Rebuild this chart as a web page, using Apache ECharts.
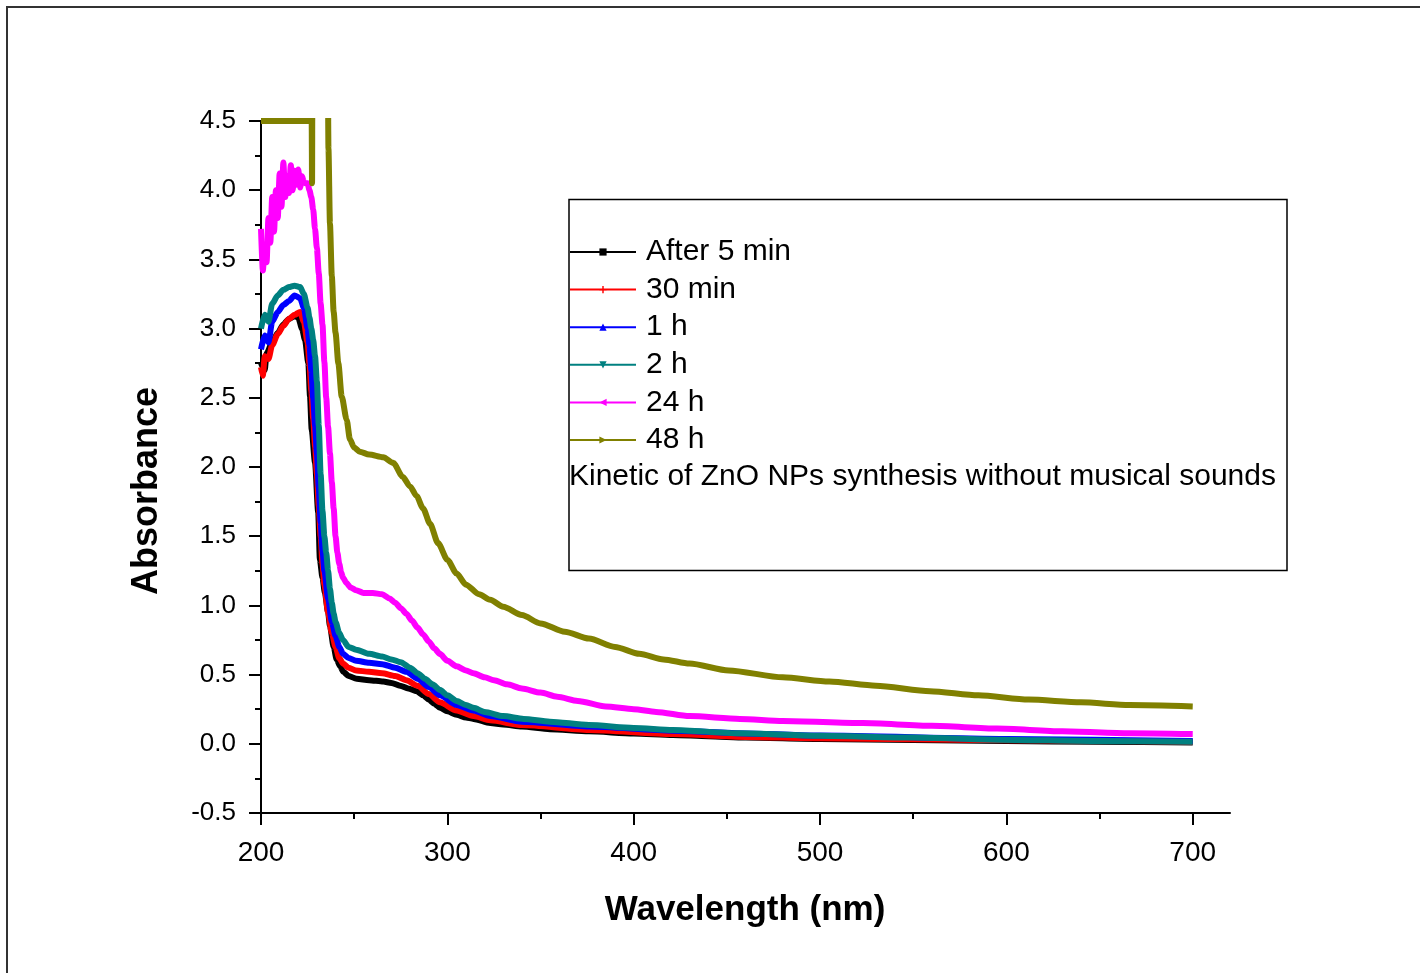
<!DOCTYPE html>
<html>
<head>
<meta charset="utf-8">
<script src="https://cdn.jsdelivr.net/npm/echarts@6/dist/echarts.min.js"></script>
<style>
  html, body { margin: 0; padding: 0; background: #fff; }
  #chart { width: 1420px; height: 973px; }
</style>
</head>
<body>
<div id="chart"></div>
<script>
// ---------- data (wavelength nm, absorbance) ----------
const seriesNames = ['After 5 min', '30 min', '1 h', '2 h', '24 h', '48 h'];

const after5min = [[200,2.75],[202,2.70],[203,2.82],[206,2.90],[209,2.97],[212,3.03],[215,3.07],[218,3.09],[220,3.08],[222,3.00],[223.6,2.92],[225.4,2.75],[226.3,2.51],[227.2,2.27],[229,2.03],[230.7,1.67],[231.6,1.33],[233,1.20],[234.3,1.09],[236,0.95],[237,0.85],[239,0.70],[240.6,0.61],[242.5,0.56],[244.2,0.52],[247,0.49],[251.3,0.47],[258,0.46],[265.6,0.45],[270,0.44],[274.6,0.42],[279,0.40],[283.5,0.38],[287,0.35],[290,0.32],[293,0.29],[296,0.26],[300,0.235],[305,0.21],[310,0.19],[314,0.18],[323,0.15],[330,0.14],[340,0.125],[355,0.105],[376,0.09],[400,0.075],[421,0.064],[440,0.055],[460,0.045],[500,0.035],[550,0.028],[600,0.02],[650,0.015],[700,0.01]];

const min30 = [[200,2.72],[201,2.66],[202,2.80],[204,2.78],[206,2.88],[209,2.96],[212,3.02],[215,3.07],[218,3.10],[221,3.12],[223,3.05],[225,2.90],[226,2.75],[227,2.55],[228,2.35],[229,2.15],[230,1.95],[231,1.72],[232,1.50],[233,1.30],[234,1.15],[236,0.95],[238,0.80],[240,0.70],[242,0.62],[244,0.58],[247,0.55],[251,0.53],[258,0.52],[265,0.51],[272,0.49],[278,0.46],[284,0.42],[290,0.36],[296,0.30],[305,0.24],[314,0.20],[323,0.17],[340,0.135],[376,0.10],[421,0.07],[460,0.05],[500,0.04],[600,0.025],[700,0.015]];

const h1 = [[200,2.85],[202,2.95],[204,2.90],[206,3.05],[209,3.12],[212,3.17],[215,3.20],[218,3.24],[221,3.22],[223,3.15],[225,3.00],[226,2.88],[227,2.70],[228,2.50],[229,2.30],[230,2.10],[231,1.85],[232,1.60],[233,1.40],[234,1.25],[236,1.05],[238,0.88],[240,0.78],[242,0.70],[244,0.65],[247,0.62],[251,0.60],[258,0.585],[265,0.575],[272,0.55],[278,0.52],[284,0.47],[290,0.41],[296,0.35],[305,0.28],[314,0.24],[323,0.20],[340,0.16],[376,0.125],[421,0.095],[460,0.075],[500,0.06],[600,0.035],[700,0.02]];

const h2 = [[200,3.00],[202,3.10],[204,3.05],[206,3.18],[209,3.24],[212,3.28],[215,3.30],[218,3.31],[221,3.30],[223,3.25],[225,3.15],[226,3.08],[227,3.00],[228,2.92],[229,2.80],[230,2.62],[231,2.30],[232,1.95],[233,1.68],[234,1.50],[235,1.38],[236,1.25],[237,1.12],[238,1.02],[239,0.94],[240,0.88],[242,0.80],[244,0.75],[247,0.70],[251,0.68],[258,0.65],[265,0.63],[270,0.61],[275,0.59],[280,0.55],[284,0.51],[288,0.47],[292,0.43],[296,0.39],[300,0.35],[305,0.31],[310,0.28],[314,0.26],[320,0.23],[330,0.20],[341,0.18],[355,0.16],[376,0.136],[400,0.115],[421,0.10],[457,0.076],[500,0.058],[550,0.045],[595,0.03],[650,0.02],[700,0.015]];

const h24 = [[200,3.72],[201,3.42],[202,3.60],[203,3.48],[204,3.80],[205,3.62],[206,3.95],[207,3.70],[208,4.00],[209,3.80],[210,4.12],[211,3.88],[212,4.20],[213,3.95],[214,4.10],[215,3.98],[216,4.18],[217,4.00],[218,4.14],[219,4.04],[220,4.15],[221,4.02],[222,4.10],[223,4.06],[224,4.05],[225,4.05],[226,4.00],[227,3.95],[228,3.86],[229,3.72],[230,3.58],[231,3.40],[232,3.18],[233,3.03],[234,2.76],[235,2.50],[236,2.29],[237,2.10],[238,1.89],[239,1.70],[240,1.50],[241,1.38],[242,1.30],[243,1.24],[244,1.20],[246,1.16],[248,1.13],[251,1.11],[255,1.09],[260,1.09],[265,1.08],[269,1.05],[272,1.02],[275,0.98],[278,0.94],[281,0.89],[284,0.84],[287,0.79],[290,0.74],[293,0.69],[296,0.65],[300,0.60],[305,0.56],[310,0.53],[314,0.51],[320,0.48],[325,0.46],[332,0.43],[340,0.40],[350,0.37],[359,0.34],[370,0.31],[385,0.27],[400,0.25],[412,0.23],[430,0.20],[457,0.18],[480,0.165],[523,0.15],[560,0.13],[595,0.11],[630,0.09],[666,0.076],[700,0.07]];

const h48 = [[200,4.5],[205,4.5],[210,4.5],[215,4.5],[220,4.5],[225,4.5],[227.2,4.5],[227.4,4.05],[227.6,5.0],[235.8,5.0],[236.2,4.3],[237,3.76],[238,3.38],[239,3.12],[240,2.97],[241.5,2.75],[243.3,2.51],[246,2.34],[247.7,2.20],[250,2.14],[253,2.11],[258,2.09],[265.6,2.07],[271,2.03],[276,1.93],[280,1.86],[283.5,1.79],[287,1.70],[290.7,1.59],[295,1.45],[300,1.33],[305,1.23],[310,1.15],[317,1.08],[323,1.04],[330,0.99],[340,0.93],[350,0.87],[363,0.81],[376,0.76],[390,0.70],[403,0.65],[416,0.61],[430,0.58],[451,0.53],[480,0.48],[505,0.45],[530,0.42],[559,0.38],[585,0.35],[612,0.32],[640,0.30],[666,0.28],[700,0.27]];

const xMajorTicks = [200, 300, 400, 500, 600, 700];
const xMinorTicks = [250, 350, 450, 550, 650];
const noteText = 'Kinetic of ZnO NPs synthesis without musical sounds';

// ---------- styling ----------
const colors = ['#000000', '#ff0000', '#0000ff', '#008080', '#ff00ff', '#808000'];
const symbols = [
  'rect',
  'path://M4,0 L6,0 L6,4 L10,4 L10,6 L6,6 L6,10 L4,10 L4,6 L0,6 L0,4 L4,4 Z',
  'triangle',
  'path://M0,0 L10,0 L5,10 Z',
  'path://M0,5 L10,0 L10,10 Z',
  'path://M0,0 L10,5 L0,10 Z'
];
const dataSets = [after5min, min30, h1, h2, h24, h48];
const FONT = '"Liberation Sans", Arial, sans-serif';

const chart = echarts.init(document.getElementById('chart'), null, { renderer: 'canvas' });

const series = dataSets.map((d, i) => ({
  name: seriesNames[i],
  type: 'line',
  data: d,
  xAxisIndex: 0,
  yAxisIndex: 0,
  symbol: symbols[i],
  showSymbol: false,
  smooth: 0.25,
  smoothMonotone: 'x',
  clip: true,
  animation: false,
  lineStyle: { color: colors[i], width: 6 },
  itemStyle: { color: colors[i] }
}));

const option = {
  backgroundColor: '#ffffff',
  animation: false,
  grid: { left: 261, right: 190, top: 121, bottom: 160, containLabel: false },
  xAxis: [{
    type: 'value',
    min: 200, max: 720,
    position: 'bottom',
    axisLine: { show: true, onZero: false, lineStyle: { color: '#000', width: 2 } },
    axisTick: { show: true, inside: false, length: 12, lineStyle: { color: '#000', width: 2 }, customValues: xMajorTicks },
    axisLabel: { show: true, margin: 26, fontSize: 28, color: '#000', fontFamily: FONT, customValues: xMajorTicks },
    splitLine: { show: false }
  }, {
    type: 'value',
    min: 200, max: 720,
    position: 'bottom',
    axisLine: { show: false, onZero: false },
    axisTick: { show: true, inside: false, length: 6, lineStyle: { color: '#000', width: 2 }, customValues: xMinorTicks },
    axisLabel: { show: false },
    splitLine: { show: false }
  }],
  yAxis: {
    type: 'value',
    min: -0.5, max: 4.5, interval: 0.5,
    axisLine: { show: true, onZero: false, lineStyle: { color: '#000', width: 2 } },
    axisTick: { show: true, inside: false, length: 12, lineStyle: { color: '#000', width: 2 } },
    minorTick: { show: true, splitNumber: 2, length: 6, lineStyle: { color: '#000', width: 2 } },
    axisLabel: { margin: 25, fontSize: 26, color: '#000', fontFamily: FONT, formatter: v => v.toFixed(1) },
    splitLine: { show: false },
    minorSplitLine: { show: false }
  },
  legend: {
    data: seriesNames,
    orient: 'vertical',
    left: 569,
    top: 237,
    padding: 0,
    itemGap: 7.6,
    itemWidth: 66,
    itemHeight: 9,
    lineStyle: { width: 2 },
    itemStyle: { borderWidth: 0 },
    textStyle: { fontSize: 30, lineHeight: 30, color: '#000', fontFamily: FONT, padding: [0, 0, 0, 5] },
    selectedMode: false
  },
  graphic: [
    { type: 'rect', silent: true, z: 0, shape: { x: 7, y: 7, width: 1430, height: 1000 },
      style: { fill: null, stroke: '#333', lineWidth: 2 } },
    { type: 'rect', silent: true, z: 0, shape: { x: 569, y: 199.5, width: 718, height: 371 },
      style: { fill: null, stroke: '#000', lineWidth: 1.5 } },
    { type: 'text', silent: true, x: 569, y: 477,
      style: { text: noteText, fontSize: 30, fontFamily: FONT, fill: '#000', align: 'left', verticalAlign: 'middle' } },
    { type: 'text', silent: true, x: 147, y: 491, rotation: Math.PI / 2,
      style: { text: 'Absorbance', fontSize: 36, fontWeight: 'bold', fontFamily: FONT, fill: '#000', align: 'center', verticalAlign: 'middle' } },
    { type: 'text', silent: true, x: 745, y: 910,
      style: { text: 'Wavelength (nm)', fontSize: 35, fontWeight: 'bold', fontFamily: FONT, fill: '#000', align: 'center', verticalAlign: 'middle' } }
  ],
  series: series
};

chart.setOption(option);
</script>
</body>
</html>
